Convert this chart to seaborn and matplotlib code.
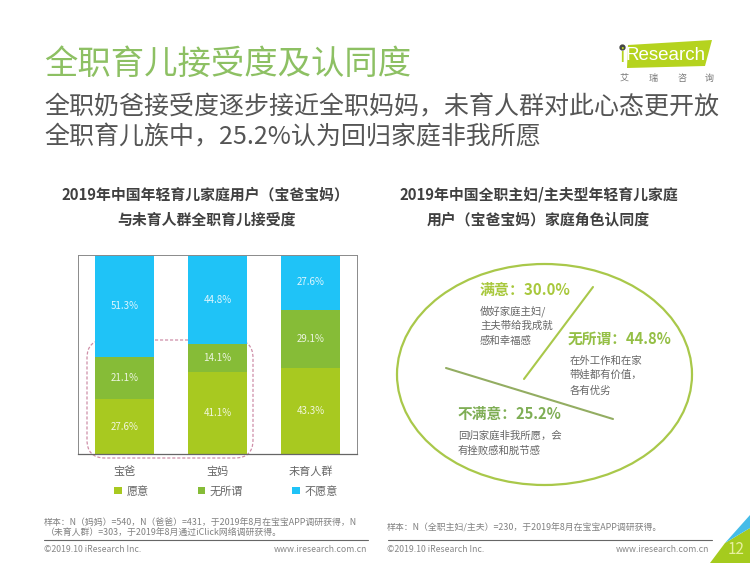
import matplotlib
matplotlib.use("Agg")
import matplotlib.pyplot as plt
from matplotlib.patches import Ellipse, FancyBboxPatch, Polygon
import seaborn as sns

# --- DATA ---
GROUPS = ["宝爸", "宝妈", "未育人群"]
WILLING = [27.6, 41.1, 43.3]
NEUTRAL = [21.1, 14.1, 29.1]
UNWILLING = [51.3, 44.8, 27.6]
SERIES_NAMES = ["愿意", "无所谓", "不愿意"]
ROLE_LABELS = ["满意：30.0%", "无所谓：44.8%", "不满意：25.2%"]

LIME = "#a8c920"
GREEN = "#86bc37"
BLUE = "#1fc3f7"
W, H = 750, 563

sns.set_theme(style="white")
plt.rcParams["font.family"] = ["Noto Sans CJK SC", "DejaVu Sans"]

fig = plt.figure(figsize=(W / 100, H / 100), dpi=100)


def pixel_layer(zorder):
    # transparent full-page axes, in pixel coordinates
    layer = fig.add_axes([0, 0, 1, 1], zorder=zorder)
    layer.set_xlim(0, W)
    layer.set_ylim(H, 0)
    layer.axis("off")
    layer.patch.set_alpha(0)
    return layer


# Dashed highlight around the two parent bars, it runs behind the bars
back = pixel_layer(0)
back.add_patch(FancyBboxPatch((87 + 15, 340 + 15), 166 - 30, 118 - 30, boxstyle="round,pad=15,rounding_size=18",
                              fill=False, ec="#cf8fa8", lw=0.9, ls=(0, (2.5, 1.5))))

# ------------------------------------------------------------------------------
# Stacked bars (left chart)
# ------------------------------------------------------------------------------
ax = fig.add_axes([78 / W, 1 - 454 / H, 279 / W, 199 / H], zorder=1)
ax.patch.set_alpha(0)
bottom = [0, 0, 0]
for vals, col, name in zip([WILLING, NEUTRAL, UNWILLING], [LIME, GREEN, BLUE], SERIES_NAMES):
    sns.barplot(x=GROUPS, y=vals, bottom=bottom, color=col, saturation=1, width=0.625,
                label=name, ax=ax, legend=False, linewidth=0)
    ax.bar_label(ax.containers[-1], labels=[f"{v}%" for v in vals], label_type="center",
                 color="white", alpha=0.85, fontsize=7)
    bottom = [b + v for b, v in zip(bottom, vals)]

ax.set_xlim(-0.5, 2.5)
ax.set_ylim(0, 100)
ax.set_yticks([])
ax.set_ylabel("")
ax.tick_params(axis="x", length=0, pad=9, labelsize=8, labelcolor="#666666")
for side in ["top", "left", "right"]:
    ax.spines[side].set_color("#8a8a8a")
    ax.spines[side].set_linewidth(0.7)
ax.spines["bottom"].set_color("#666666")
ax.spines["bottom"].set_linewidth(0.9)

# ------------------------------------------------------------------------------
# Everything else
# ------------------------------------------------------------------------------
page = pixel_layer(5)

handles, labels = ax.get_legend_handles_labels()
leg = ax.legend(handles, labels, loc="center", bbox_to_anchor=(226, 491), bbox_transform=page.transData,
                ncol=3, frameon=False, fontsize=8, handlelength=0.7, handleheight=0.7,
                handletextpad=0.4, columnspacing=4.4, labelcolor="#666666")

# Headline block
page.text(44, 64, "全职育儿接受度及认同度", fontsize=24, color="#8dc063", va="center")
page.text(44, 107, "全职奶爸接受度逐步接近全职妈妈，未育人群对此心态更开放", fontsize=18, color="#555555", va="center")
page.text(44, 137, "全职育儿族中，25.2%认为回归家庭非我所愿", fontsize=18, color="#555555", va="center")

# Logo
page.add_patch(Polygon([(628, 45), (712, 40), (705, 66), (627, 68)], color="#b5d31e", lw=0))
page.plot([622], [47], "o", ms=3.5, color="#444444")
page.text(622, 57, "i", fontsize=14, color="#b5d31e", ha="center", va="center", family="DejaVu Sans")
page.text(666, 55, "Research", fontsize=13.5, color="white", ha="center", va="center", family="Liberation Sans")
for x, ch in zip([624, 653, 682, 709], "艾瑞咨询"):
    page.text(x, 78, ch, fontsize=6.5, color="#777777", ha="center", va="center")

# Chart titles
page.text(205, 195, "2019年中国年轻育儿家庭用户（宝爸宝妈）", fontsize=10.7, fontweight="bold", color="#404040", ha="center", va="center")
page.text(207, 220, "与未育人群全职育儿接受度", fontsize=10.7, fontweight="bold", color="#404040", ha="center", va="center")
page.text(539, 195, "2019年中国全职主妇/主夫型年轻育儿家庭", fontsize=10.7, fontweight="bold", color="#404040", ha="center", va="center")
page.text(538, 219, "用户（宝爸宝妈）家庭角色认同度", fontsize=10.7, fontweight="bold", color="#404040", ha="center", va="center")

# Ellipse with the role split
page.add_patch(Ellipse((544.5, 374.5), 295, 221, fill=False, ec="#a9c84a", lw=1.6))
page.plot([593, 524], [287, 379], color="#a9c84a", lw=1.5)
page.plot([446, 613], [368, 419], color="#93ad62", lw=1.5)

page.text(480, 290, ROLE_LABELS[0], fontsize=10.8, fontweight="bold", color="#a8c83c", va="center")
page.text(568, 339, ROLE_LABELS[1], fontsize=10.6, fontweight="bold", color="#94bf45", va="center")
page.text(458, 414, ROLE_LABELS[2], fontsize=10.6, fontweight="bold", color="#7fae55", va="center")
for x, y, line in [(480, 311, "做好家庭主妇/"), (480, 326, "主夫带给我成就"), (480, 341, "感和幸福感"),
                   (570, 361, "在外工作和在家"), (570, 375, "带娃都有价值，"), (570, 391, "各有优劣"),
                   (458, 436, "回归家庭非我所愿，会"), (458, 451, "有挫败感和脱节感")]:
    page.text(x, y, line, fontsize=7.5, color="#666666", va="center")

# Footers
page.text(44, 522, "样本：N（妈妈）=540，N（爸爸）=431，于2019年8月在宝宝APP调研获得，N", fontsize=6.4, color="#808080", va="center")
page.text(46, 532, "（未育人群）=303，于2019年8月通过iClick网络调研获得。", fontsize=6.4, color="#808080", va="center")
page.text(387, 528, "样本：N（全职主妇/主夫）=230，于2019年8月在宝宝APP调研获得。", fontsize=6.4, color="#808080", va="center")
page.plot([44, 368], [540, 540], color="#666666", lw=0.8)
page.plot([388, 712], [540, 540], color="#666666", lw=0.8)
page.text(44, 549, "©2019.10 iResearch Inc.", fontsize=6.3, color="#888888", va="center")
page.text(367, 549, "www.iresearch.com.cn", fontsize=6.3, color="#888888", va="center", ha="right")
page.text(387, 549, "©2019.10 iResearch Inc.", fontsize=6.3, color="#888888", va="center")
page.text(709, 549, "www.iresearch.com.cn", fontsize=6.3, color="#888888", va="center", ha="right")

# Page corner
page.add_patch(Polygon([(725, 543), (750, 528), (750, 563), (710, 563)], color="#a5cb1e", lw=0))
page.add_patch(Polygon([(750, 515), (725, 543), (750, 528)], color="#45bce8", lw=0))
page.text(736, 549, "12", fontsize=11, color="#e8f0a0", ha="center", va="center")

fig.savefig("out.png", dpi=100)
